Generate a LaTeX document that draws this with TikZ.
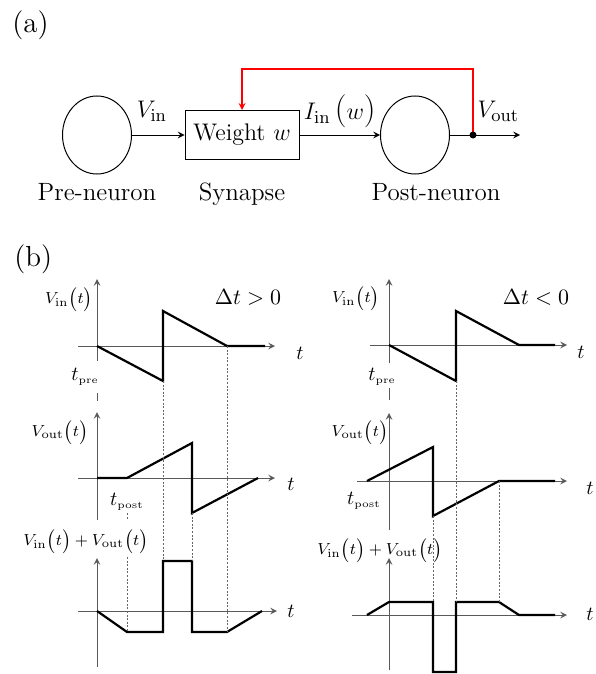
\documentclass[tikz,border=0pt]{standalone}
\usetikzlibrary{shapes.geometric}
\begin{document}
\begin{tikzpicture}[
  x=0.5pt, y=-0.5pt, >=stealth,
  neuron/.style={ellipse,draw,line width=0.5pt,minimum width=34.5pt,minimum height=39pt,inner sep=0pt},
  synbox/.style={rectangle,draw,line width=0.5pt,minimum width=57pt,minimum height=24.5pt,inner sep=2pt,font=\fontsize{12}{14}\selectfont},
  wire/.style={->,line width=0.5pt},
  fbline/.style={->,red,line width=0.55pt},
  lbl/.style={inner sep=0pt,font=\fontsize{12.5}{15}\selectfont},
  tag/.style={inner sep=0pt,anchor=base west,font=\fontsize{14.5}{17}\selectfont},
  axline/.style={black!65,line width=0.5pt},
  sig/.style={line width=1.1pt,line join=miter},
  guide/.style={black!60,line width=0.3pt,dash pattern=on 1pt off 0.8pt},
  plab/.style={inner sep=0pt,font=\fontsize{8.5}{10}\selectfont},
  tlab/.style={inner sep=0pt,font=\fontsize{10}{12}\selectfont},
]
\useasboundingbox (0,0) rectangle (595,674);

% (a) the synapse between two neurons
\node[tag] (pa) at (12,33) {(a)};
\node[neuron] (pre)  at (97,135)  {};
\node[synbox] (syn)  at (242,135) {Weight $w$};
\node[neuron] (post) at (415,135) {};
\coordinate (out)   at (520,135);
\coordinate (tap)   at (473,135);
\coordinate (fbtop) at (473,69);

\draw[wire] (pre)--node[lbl,above=6.5pt,pos=0.38]{$V_{\mathrm{in}}$}(syn);
\draw[wire] (syn)--node[lbl,above=3.5pt]{$I_{\mathrm{in}}$\,{\fontsize{16.5}{17}\selectfont(}$w${\fontsize{16.5}{17}\selectfont)}}(post);
\draw[wire] (post)--node[lbl,above=6.5pt,pos=0.69]{$V_{\mathrm{out}}$}(out);
\draw[fbline] (tap)--(fbtop)-|(syn.north);
\fill (tap) circle (1.75pt);

\node[lbl,anchor=base] (prename)  at (97,200)  {Pre-neuron};
\node[lbl,anchor=base] (synname)  at (242,200) {Synapse};
\node[lbl,anchor=base] (postname) at (436,200) {Post-neuron};

% (b) left column, Delta t > 0
\node[tag] (pb) at (14,266) {(b)};

\draw[axline,->] (78,346)--(275,346);
\draw[axline,->] (97,361)--(97,279);
\draw[axline] (97,393)--(97,401);
\draw[sig] (97,346)--(163,381)--(163,311)--(227,346)--(265,346);
\node[plab] (vinL)  at (69,299)  {$V_{\mathrm{in}}\bigl(t\bigr)$};
\node[lbl,font=\fontsize{11}{13}\selectfont] (dtpos) at (248,297) {$\Delta t>0$};
\node[tlab] (t1L)   at (300,353) {$t$};
\node[tlab] (tpreL) at (85,377)  {$t_{\scriptscriptstyle\mathrm{pre}}$};

\draw[axline,->] (78,478)--(275,478);
\draw[axline,->] (97,520)--(97,412);
\draw[sig] (97,478)--(127,478)--(192,443)--(192,513)--(258,478);
\node[plab] (voutL)  at (60,432)  {$V_{\mathrm{out}}\bigl(t\bigr)$};
\node[tlab] (t2L)    at (291,484) {$t$};
\node[tlab] (tpostL) at (127,502) {$t_{\scriptscriptstyle\mathrm{post}}$};

\draw[axline,->] (78,611)--(277,611);
\draw[axline,->] (97,667)--(97,558);
\draw[sig] (97,611)--(127,632)--(163,632)--(163,561)--(192,561)--(192,632)--(227,632)--(262,611);
\node[plab] (sumL) at (86,541)  {$V_{\mathrm{in}}\bigl(t\bigr)+V_{\mathrm{out}}\bigl(t\bigr)$};
\node[tlab] (t3L)  at (291,611) {$t$};

\draw[guide] (163,381)--(163,561);
\draw[guide] (227,346)--(227,632);
\draw[guide] (192,513)--(192,561);
\draw[guide] (127,513)--(127,520);
\draw[guide] (127,557)--(127,632);

% (b) right column, Delta t < 0
\draw[axline,->] (370,345)--(567,345);
\draw[axline,->] (389,363)--(389,279);
\draw[axline] (389,388)--(389,400);
\draw[sig] (389,345)--(456,381)--(456,311)--(519,345)--(555,345);
\node[plab] (vinR)  at (356,298) {$V_{\mathrm{in}}\bigl(t\bigr)$};
\node[lbl,font=\fontsize{11}{13}\selectfont] (dtneg) at (536,297) {$\Delta t<0$};
\node[tlab] (t1R)   at (581,352) {$t$};
\node[tlab] (tpreR) at (382,377) {$t_{\scriptscriptstyle\mathrm{pre}}$};

\draw[axline,->] (357,481)--(567,481);
\draw[axline,->] (389,530)--(389,413);
\draw[sig] (367,481)--(433,447)--(433,516)--(499,481)--(555,481);
\node[plab] (voutR)  at (360,432) {$V_{\mathrm{out}}\bigl(t\bigr)$};
\node[tlab] (t2R)    at (590,488) {$t$};
\node[tlab] (tpostR) at (364,501) {$t_{\scriptscriptstyle\mathrm{post}}$};

\draw[axline,->] (352,615)--(567,615);
\draw[axline,->] (389,670)--(389,558);
\draw[sig] (367,615)--(389,602)--(433,602)--(433,672)--(456,672)--(456,602)--(499,602)--(519,615)--(555,615);
\node[plab] (sumR) at (380,550) {$V_{\mathrm{in}}\bigl(t\bigr)+V_{\mathrm{out}}\bigl(t\bigr)$};
\node[tlab] (t3R)  at (590,614) {$t$};

\draw[guide] (456,381)--(456,602);
\draw[guide] (433,516)--(433,602);
\draw[guide] (499,481)--(499,602);
\end{tikzpicture}
\end{document}
